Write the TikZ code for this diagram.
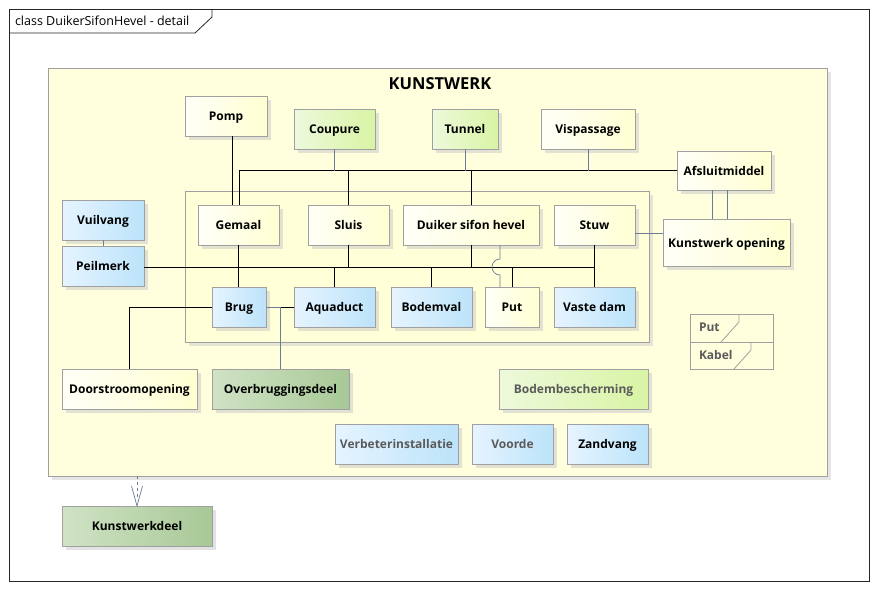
\documentclass[tikz,border=0pt]{standalone}
\usepackage{fontspec}
\setmainfont{Open Sans}
\usetikzlibrary{shadows,arrows.meta,calc}
\definecolor{bordergrey}{HTML}{A0A0A0}
\definecolor{linkblue}{HTML}{6E7C96}
\definecolor{ylL}{HTML}{FFFFF8}
\definecolor{ylR}{HTML}{FFFFD2}
\definecolor{grL}{HTML}{EEF9DC}
\definecolor{grR}{HTML}{D8F4A4}
\definecolor{blL}{HTML}{E6F4FF}
\definecolor{blR}{HTML}{BCE3FA}
\definecolor{dgL}{HTML}{D0E3C5}
\definecolor{dgR}{HTML}{A8C896}
\definecolor{kfill}{HTML}{FFFFDE}
\definecolor{ifill}{HTML}{FFFFD8}
\definecolor{greytext}{HTML}{5A5A5A}
\newcommand{\bx}[7]{%
  \node[#1, minimum width={(#5-#3)*1pt}, minimum height={(#6-#4)*1pt}] (#2) at ({(#3+#5)/2},{(#4+#6)/2}) {#7};}
\tikzset{
  every node/.style={inner sep=0pt, outer sep=0pt},
  nfont/.style={font=\fontsize{12}{14}\selectfont\bfseries},
  base/.style={draw=bordergrey, line width=0.8pt, nfont, text height=11pt, text depth=2pt,
    drop shadow={shadow xshift=3.5pt, shadow yshift=-3.5pt, fill=black!22}},
  ybox/.style={base, left color=ylL, right color=ylR},
  gbox/.style={base, left color=grL, right color=grR},
  bbox/.style={base, left color=blL, right color=blR},
  dbox/.style={base, left color=dgL, right color=dgR},
  conn/.style={draw=black, line width=0.8pt},
  bconn/.style={draw=linkblue, line width=0.7pt},
}
\begin{document}
\begin{tikzpicture}[x=1pt,y=-1pt]
\useasboundingbox[fill=white] (0,0) rectangle (877,589);
% frame
\draw[black!85, line width=0.8pt] (9,9) rectangle (869,581);
\draw[black!85, line width=0.8pt] (9,33) -- (195,33) -- (212,17) -- (212,9);
\node[anchor=west, font=\fontsize{12.5}{14}\selectfont] (frametitle) at (15,21) {class DuikerSifonHevel - detail};
% KUNSTWERK package
\bx{draw=bordergrey, line width=0.8pt, fill=kfill, drop shadow={shadow xshift=4pt, shadow yshift=-4pt, fill=black!20}}{Kunst}{48}{68}{827}{476}{}
\node[anchor=center, font=\fontsize{16.5}{18}\selectfont\bfseries] (KunstTitle) at (440,84) {KUNSTWERK};
\bx{draw=bordergrey, line width=0.8pt, fill=ifill, drop shadow={shadow xshift=3.5pt, shadow yshift=-3.5pt, fill=black!20}}{Inner}{185}{191}{649}{342}{}
% top row
\bx{ybox}{Pomp}{185}{96}{267}{136}{Pomp}
\bx{gbox}{Coupure}{294}{109}{375}{149}{Coupure}
\bx{gbox}{Tunnel}{432}{109}{498}{149}{Tunnel}
\bx{ybox}{Vispassage}{541}{109}{635}{149}{Vispassage}
\bx{ybox}{Afsluit}{677}{151}{771}{190}{Afsluitmiddel}
\bx{ybox}{Kopening}{663}{219}{790}{266}{Kunstwerk opening}
% inner
\bx{ybox}{Gemaal}{198}{205}{279}{245}{Gemaal}
\bx{ybox}{Sluis}{308}{205}{389}{245}{Sluis}
\bx{ybox}{Duiker}{403}{205}{539}{245}{Duiker sifon hevel}
\bx{ybox}{Stuw}{554}{205}{635}{245}{Stuw}
\bx{bbox}{Brug}{212}{287}{266}{327}{Brug}
\bx{bbox}{Aquaduct}{294}{287}{375}{327}{Aquaduct}
\bx{bbox}{Bodemval}{391}{287}{472}{327}{Bodemval}
\bx{ybox}{Put}{485}{287}{539}{327}{Put}
\bx{bbox}{VasteDam}{554}{287}{635}{327}{Vaste dam}
% left
\bx{bbox}{Vuilvang}{62}{200}{144}{240}{Vuilvang}
\bx{bbox}{Peilmerk}{62}{246}{144}{286}{Peilmerk}
% bottom
\bx{ybox}{Doorstroom}{62}{369}{197}{409}{Doorstroomopening}
\bx{dbox}{Overbrug}{212}{369}{349}{409}{Overbruggingsdeel}
\bx{gbox, text=greytext}{Bodembesch}{499}{369}{648}{409}{Bodembescherming}
\bx{bbox, text=greytext}{Verbeter}{335}{424}{458}{464}{Verbeterinstallatie}
\bx{bbox, text=greytext}{Voorde}{472}{424}{553}{464}{Voorde}
\bx{bbox}{Zandvang}{567}{424}{648}{464}{Zandvang}
\bx{dbox}{Kunstwerkdeel}{62}{506}{212}{546}{Kunstwerkdeel}
% legend
\draw[bordergrey, line width=0.8pt, fill=kfill] (690,314) rectangle (773,369);
\draw[bordergrey, line width=0.8pt] (690,342) -- (773,342);
\draw[bordergrey, line width=0.8pt] (739,314) -- (739,322) -- (721,342);
\draw[bordergrey, line width=0.8pt] (751,342) -- (751,350) -- (734,369);
\node[anchor=west, nfont, text=greytext] (legPut) at (699,327) {Put};
\node[anchor=west, nfont, text=greytext] (legKabel) at (699,355) {Kabel};
% top bus
\coordinate (tb) at (239,171);
\draw[conn] (Afsluit.west) -- (Afsluit.west -| tb) -- (Gemaal.north -| tb);
\draw[conn] ([xshift=-6.5pt]Gemaal.north) -- ([xshift=-6.5pt]Gemaal.north |- Pomp.south);
\draw[conn] (Sluis.north) -- (Sluis.north |- tb);
\draw[conn] (Duiker.north) -- (Duiker.north |- tb);
\draw[bconn] (Coupure.south) -- (Coupure.south |- tb);
\draw[bconn] (Tunnel.south) -- (Tunnel.south |- tb);
\draw[bconn] (Vispassage.south) -- (Vispassage.south |- tb);
\draw[bconn] ([xshift=-12pt]Afsluit.south) -- ([xshift=-12pt]Afsluit.south |- Kopening.north);
\draw[bconn] ([xshift=3pt]Afsluit.south) -- ([xshift=3pt]Afsluit.south |- Kopening.north);
\draw[bconn] ([yshift=-8pt]Stuw.east) -- ([yshift=-8pt]Stuw.east -| Kopening.west);
% lower bus
\coordinate (lb) at (596,267);
\draw[conn] (Peilmerk.east |- lb) -- (Stuw.south |- lb);
\draw[conn] (Stuw.south) -- (VasteDam.north);
\draw[conn] (Gemaal.south) -- (Gemaal.south |- Brug.north);
\draw[conn] (Sluis.south) -- (Sluis.south |- lb);
\draw[conn] (Aquaduct.north) -- (Aquaduct.north |- lb);
\draw[conn] (Bodemval.north) -- (Bodemval.north |- lb);
\draw[conn] (Duiker.south) -- (Duiker.south |- lb);
\draw[conn] (Put.north) -- (Put.north |- lb);
\coordinate (hop) at (500,267);
\draw[bconn] (Duiker.south -| hop) -- ([yshift=8pt]hop) arc[start angle=90, end angle=270, radius=8pt] -- (Put.north -| hop);
\draw[bconn] (Vuilvang.south) -- (Peilmerk.north);
% brug
\draw[conn] (Brug.west) -| (Doorstroom.north);
\draw[bconn] (Overbrug.north) |- (Brug.east);
\draw[conn] (Aquaduct.west) -- (Aquaduct.west -| Overbrug.north);
% realization
\draw[linkblue, line width=0.7pt, dash pattern=on 3pt off 3pt] (Kunstwerkdeel.north |- Kunst.south) -- ([yshift=6pt]Kunstwerkdeel.north);
\draw[linkblue, line width=0.7pt] ([xshift=-5.5pt, yshift=20pt]Kunstwerkdeel.north) -- (Kunstwerkdeel.north) -- ([xshift=5.5pt, yshift=20pt]Kunstwerkdeel.north);
\end{tikzpicture}
\end{document}
